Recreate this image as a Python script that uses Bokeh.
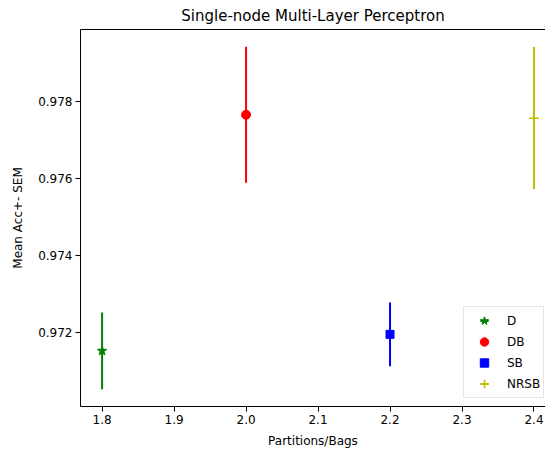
import math
from bokeh.plotting import figure
from bokeh.models import (Range1d, LinearAxis, FixedTicker, Legend, LegendItem,
                          ColumnDataSource, PrintfTickFormatter)
from bokeh.embed import file_html
from bokeh.resources import INLINE

labels = ["D", "DB", "SB", "NRSB"]
partitions = [1.8, 2.0, 2.2, 2.4]
means = [0.97152, 0.97766, 0.97195, 0.97757]
sems = [0.00100, 0.00177, 0.00083, 0.00185]
markers = ["star", "circle", "square", "cross"]
colors = ["#008000", "#ff0000", "#0000ff", "#bfbf00"]
x_ticks = [1.8, 1.9, 2.0, 2.1, 2.2, 2.3, 2.4]
y_ticks = [0.972, 0.974, 0.976, 0.978]

FONT = "DejaVu Sans"

lows = [m - s for m, s in zip(means, sems)]
highs = [m + s for m, s in zip(means, sems)]
ymin, ymax = min(lows), max(highs)
ypad = 0.05 * (ymax - ymin)
xpad = 0.05 * (max(partitions) - min(partitions))

p = figure(
    frame_width=465, frame_height=377,
    min_border_left=80, min_border_right=0, min_border_top=29, min_border_bottom=38,
    x_range=Range1d(min(partitions) - xpad, 2.416),
    y_range=Range1d(ymin - ypad, ymax + ypad),
    title="Single-node Multi-Layer Perceptron",
    output_backend="svg", toolbar_location=None,
)
p.title.text_font = FONT
p.title.text_font_size = "15px"
p.title.text_font_style = "normal"
p.title.text_color = "black"
p.title.align = "center"
p.title.vertical_align = "middle"
p.title.standoff = 8
p.title.offset = 0
p.outline_line_color = None
p.xgrid.visible = False
p.ygrid.visible = False
p.background_fill_color = "white"
p.border_fill_color = "white"

for ax in (p.xaxis[0], p.yaxis[0]):
    ax.major_label_text_font = FONT
    ax.major_label_text_font_size = "12px"
    ax.major_label_text_color = "black"
    ax.axis_label_text_font = FONT
    ax.axis_label_text_font_size = "12px"
    ax.axis_label_text_font_style = "normal"
    ax.axis_label_text_color = "black"
    ax.major_tick_in = 0
    ax.major_tick_out = 5
    ax.minor_tick_in = 0
    ax.minor_tick_out = 0
    ax.major_label_standoff = 3
    ax.axis_line_color = "black"
    ax.major_tick_line_color = "black"

p.xaxis[0].ticker = FixedTicker(ticks=x_ticks)
p.xaxis[0].formatter = PrintfTickFormatter(format="%.1f")
p.yaxis[0].ticker = FixedTicker(ticks=y_ticks)
p.yaxis[0].formatter = PrintfTickFormatter(format="%.3f")
p.xaxis[0].axis_label = "Partitions/Bags"
p.yaxis[0].axis_label = "Mean Acc+- SEM"
p.xaxis[0].axis_label_standoff = 7
p.yaxis[0].axis_label_standoff = 10

top = LinearAxis(ticker=FixedTicker(ticks=[]), major_tick_out=0, major_tick_in=0,
                 minor_tick_out=0, minor_tick_in=0, major_label_text_font_size="0px",
                 major_label_standoff=0, axis_label_standoff=0,
                 axis_line_color="black")
p.add_layout(top, "above")

items = []
for i, lab in enumerate(labels):
    src = ColumnDataSource(dict(x=[partitions[i]], y=[means[i]], lo=[lows[i]], hi=[highs[i]]))
    p.segment(x0="x", y0="lo", x1="x", y1="hi", source=src, line_color=colors[i], line_width=2)
    dash = p.scatter(x="x", y="y", source=src, marker="dash", angle=math.pi / 2,
                     size=8, line_color=colors[i], line_width=2)
    if markers[i] == "cross":
        mk = p.scatter(x="x", y="y", source=src, marker="cross", size=10,
                       line_color=colors[i], line_width=1.5)
    else:
        size = {"star": 10, "circle": 9, "square": 8}[markers[i]]
        mk = p.scatter(x="x", y="y", source=src, marker=markers[i], size=size,
                       fill_color=colors[i], line_color=colors[i])
    items.append(LegendItem(label=lab, renderers=[dash, mk]))

legend = Legend(items=items, location=(383, 8), margin=0, padding=3, spacing=0,
                glyph_width=34, glyph_height=21, label_standoff=6,
                label_text_font=FONT, label_text_font_size="12px",
                label_text_color="black",
                border_line_color="#cccccc", background_fill_alpha=0.8)
p.add_layout(legend)

open("out.html", "w").write(file_html(p, INLINE))
